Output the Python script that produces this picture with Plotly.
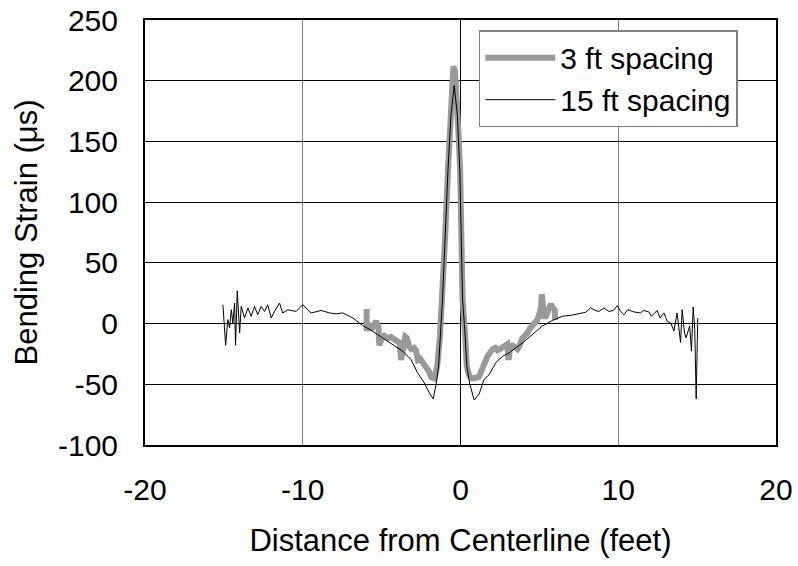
import plotly.graph_objects as go

# 3 ft spacing series (gray, thick)
x_3ft = [-5.95, -5.95, -5.8, -5.67, -5.5, -5.35, -5.2, -5.15, -5.0, -4.83, -4.6, -4.4, -4.2, -4.05,
         -3.85, -3.77, -3.65, -3.5, -3.4, -3.25, -3.1, -2.95, -2.82, -2.7, -2.55, -2.4, -2.25, -2.09,
         -1.97, -1.87, -1.75, -1.66, -1.55, -1.46, -1.3, -1.15, -0.98, -0.8, -0.62, -0.52, -0.45, -0.35,
         -0.25, -0.12, -0.02, 0.13, 0.28, 0.4, 0.55, 0.7, 0.86, 1.0, 1.15, 1.3, 1.39, 1.55, 1.71, 1.87, 2.03,
         2.2, 2.34, 2.5, 2.66, 2.85, 2.97, 3.05, 3.15, 3.29, 3.45, 3.61, 3.75, 3.92, 4.08, 4.24, 4.4,
         4.56, 4.72, 4.87, 5.0, 5.1, 5.15, 5.2, 5.3, 5.41, 5.55, 5.72, 5.85, 5.97, 6.0]
y_3ft = [12, -6, 0, -5, -2, 2, -3, -18, -12, -10, -12, -11, -13, -14,
         -16, -30, -20, -11, -12, -19, -21, -20, -22, -30, -29, -32, -34, -37,
         -40, -44, -45, -45, -40, -33, -10, 20, 70, 125, 180, 205, 212, 208,
         190, 155, 125, 20, -7, -35, -43, -45, -45, -45, -44, -40, -36, -32, -27, -24, -21,
         -20, -22, -21, -20, -18, -17, -30, -19, -18, -19, -21, -18, -12, -10, -8, -4,
         -1, 1, 3, 8, 12, 24, 8, 6, 6, 10, 16, 13, 11, 3]

# 15 ft spacing series (black, thin)
x_15ft = [-15.06, -14.89, -14.75, -14.64, -14.53, -14.43, -14.32, -14.26, -14.15, -14.0, -13.9,
          -13.69, -13.48, -13.27, -13.06, -12.85, -12.64, -12.42, -12.22, -12.0, -11.79, -11.47,
          -11.27, -10.95, -10.42, -10.0, -9.47, -8.84, -8.31, -7.89, -7.47, -6.84, -6.2, -5.57,
          -4.94, -4.3, -3.67, -3.14, -2.72, -2.3, -1.98, -1.73, -1.52, -1.39, -1.24, -1.14, -0.8,
          -0.6, -0.4, -0.2, -0.04, 0.13, 0.28, 0.4, 0.59, 0.87, 1.18, 1.5, 1.82, 2.25, 2.66, 3.1,
          3.5, 3.92, 4.56, 5.19, 5.82, 6.46, 7.09, 7.94, 8.25, 8.5, 8.77, 9.09, 9.4, 9.7, 9.94,
          10.15, 10.36, 10.6, 10.99, 11.4, 11.6, 11.94, 12.1, 12.47, 12.65, 12.9, 13.1, 13.32,
          13.53, 13.73, 13.84, 13.95, 14.05, 14.2, 14.3, 14.43, 14.53, 14.64, 14.75, 14.85,
          14.94, 15.04]
y_15ft = [15.5, -17.9, 3.3, -3.5, 11.4, 0.5, 16.9, -17.9, 26.9, -7.6, 14.1,
          4.6, 12.8, 6.0, 14.1, 7.3, 14.1, 10.0, 15.5, 4.6, 10.0, 16.9,
          8.7, 11.4, 10.0, 15.5, 8.7, 10.8, 8.8, 8, 8.8, 4.7, -1.6, -6.3,
          -11.8, -17, -22.7, -29.6, -40.5, -48.7, -57, -62, -48, -35, -7, 20, 125,
          172, 196, 172, 125, 20, -7, -35, -50, -63, -58, -46, -42, -32, -27, -24,
          -20, -16, -9, -2, 2.5, 6, 7, 9.3, 13, 11, 10, 12.8, 10, 10.8, 14.8,
          10, 7.3, 11.4, 9.6, 8.7, 10.8, 9.6, 6, 10.8, 4.6, 8.7, 1.9, 0.5,
          -6, 8.7, -3.5, -15.6, 11.4, -7.6, -11.7, -6, -2, -22.7, 13.6, -5,
          -62, 4.6]

series_names = ["3 ft spacing", "15 ft spacing"]
x_ticks = [-20, -10, 0, 10, 20]
y_ticks = [-100, -50, 0, 50, 100, 150, 200, 250]

FONT = "Liberation Sans, Arial, sans-serif"

fig = go.Figure()
fig.add_trace(go.Scatter(x=x_3ft, y=y_3ft, mode="lines", name=series_names[0],
                         line=dict(color="#999999", width=6)))
fig.add_trace(go.Scatter(x=x_15ft, y=y_15ft, mode="lines", name=series_names[1],
                         line=dict(color="black", width=1)))

fig.update_layout(
    width=798, height=566,
    margin=dict(l=145, r=22, t=20, b=121),
    paper_bgcolor="white", plot_bgcolor="white",
    font=dict(family=FONT, size=30, color="black"),
    showlegend=True,
    legend=dict(x=0.529, y=0.976, xanchor="left", yanchor="top",
                bgcolor="white", bordercolor="#808080", borderwidth=1.5,
                font=dict(size=30), itemwidth=70, tracegroupgap=0),
)
fig.update_xaxes(
    range=[-20, 20], tickvals=x_ticks, ticktext=[str(v) for v in x_ticks],
    showgrid=True, gridcolor="#808080", gridwidth=1,
    zeroline=True, zerolinecolor="black", zerolinewidth=1,
    showline=True, linecolor="black", linewidth=2, mirror=True,
    ticks="", ticklabelstandoff=17, ticklabeloverflow="allow",
    title=dict(text="Distance from Centerline (feet)", font=dict(size=31), standoff=24),
    automargin=False,
)
fig.update_yaxes(
    range=[-100, 250], tickvals=y_ticks, ticktext=[str(v) for v in y_ticks],
    showgrid=True, gridcolor="black", gridwidth=1,
    zeroline=True, zerolinecolor="black", zerolinewidth=1,
    showline=True, linecolor="black", linewidth=2, mirror=True,
    ticks="", ticklabelstandoff=19, ticklabeloverflow="allow",
    title=dict(text="Bending Strain (μs)", font=dict(size=31), standoff=11),
    automargin=False,
)

# remove the default 8px page margin so the figure fills the window exactly
fig.write_html("out.html",
               config={"displayModeBar": False},
               post_script="document.body.style.margin='0px';document.body.style.padding='0px';")
